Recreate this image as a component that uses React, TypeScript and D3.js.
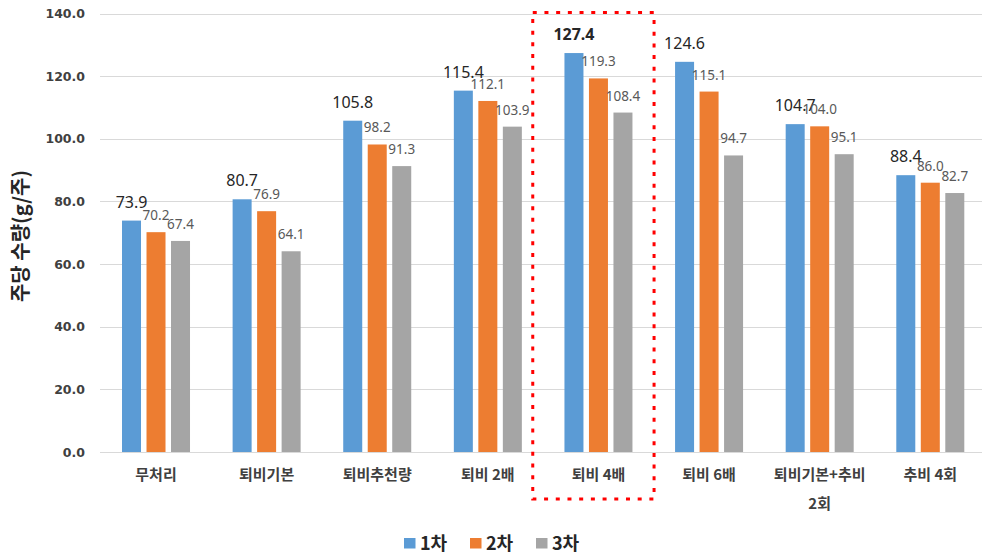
import React from "react";
import * as d3 from "d3";

// Weekly yield per plant under each fertilizer treatment, three harvests
const categories = [
  "무처리",
  "퇴비기본",
  "퇴비추천량",
  "퇴비 2배",
  "퇴비 4배",
  "퇴비 6배",
  "퇴비기본+추비\n2회",
  "추비 4회",
];
const seriesNames = ["1차", "2차", "3차"];
const harvest1 = [73.9, 80.7, 105.8, 115.4, 127.4, 124.6, 104.7, 88.4];
const harvest2 = [70.2, 76.9, 98.2, 112.1, 119.3, 115.1, 104.0, 86.0];
const harvest3 = [67.4, 64.1, 91.3, 103.9, 108.4, 94.7, 95.1, 82.7];
const yTicks = [0, 20, 40, 60, 80, 100, 120, 140];
const highlighted = "퇴비 4배";

const colors = ["#5b9bd5", "#ed7d31", "#a5a5a5"];
const series = [harvest1, harvest2, harvest3];

const W = 982;
const H = 558;

export default function App() {
  const x = d3.scaleBand<string>().domain(categories).range([100.7, 985.6]).padding(0);
  const y = d3.scaleLinear().domain([0, 140]).range([452, 13.6]);
  const barW = 19;
  const step = 24.5;

  const hlX0 = (x(highlighted) as number) - 10.4;
  const hlX1 = (x(highlighted) as number) + x.bandwidth() + 0.3;
  const hlY0 = y(140) - 1;
  const hlY1 = 499;

  const numFont = "'Noto Sans', 'Noto Sans CJK KR', sans-serif";
  const krFont = "'Noto Sans CJK KR', 'Noto Sans', sans-serif";

  return (
    <svg
      width={W}
      height={H}
      style={{ position: "absolute", left: 0, top: 0, background: "#fff" }}
    >
      {/* gridlines */}
      {yTicks.map((t) => (
        <line
          key={t}
          x1={100}
          x2={W}
          y1={Math.round(y(t)) + 0.5}
          y2={Math.round(y(t)) + 0.5}
          stroke="#d9d9d9"
          strokeWidth={1}
        />
      ))}
      {/* y tick labels */}
      {yTicks.map((t) => (
        <text
          key={"t" + t}
          x={85}
          y={y(t)}
          dy="0.36em"
          textAnchor="end"
          fontFamily="'DejaVu Sans', Verdana, sans-serif"
          fontWeight="bold"
          fontSize={12.5}
          fill="#404040"
        >
          {t.toFixed(1)}
        </text>
      ))}
      {/* y axis title */}
      <text
        transform={`translate(21,236) rotate(-90)`}
        textAnchor="middle"
        dy="0.35em"
        fontFamily={krFont}
        fontWeight="bold"
        fontSize={20}
        fill="#262626"
      >
        주당 수량(g/주)
      </text>

      {/* bars */}
      {series.map((vals, si) =>
        vals.map((v, ci) => {
          const cx = (x(categories[ci]) as number) + x.bandwidth() / 2 + (si - 1) * step;
          return (
            <rect
              key={`b${si}-${ci}`}
              x={cx - barW / 2}
              y={y(v)}
              width={barW}
              height={y(0) - y(v)}
              fill={colors[si]}
            />
          );
        })
      )}

      {/* value labels */}
      {series.map((vals, si) =>
        vals.map((v, ci) => {
          const cx = (x(categories[ci]) as number) + x.bandwidth() / 2 + (si - 1) * step;
          const first = si === 0;
          const bold = categories[ci] === highlighted && first;
          return (
            <text
              key={`l${si}-${ci}`}
              x={cx}
              y={y(v) - (first ? 13 : 12)}
              textAnchor="middle"
              fontFamily={numFont}
              fontSize={first ? 16 : 13.5}
              fontWeight={bold ? "bold" : "normal"}
              fill={first ? "#262626" : "#595959"}
            >
              {v.toFixed(1)}
            </text>
          );
        })
      )}

      {/* category labels */}
      {categories.map((c) => {
        const cx = (x(c) as number) + x.bandwidth() / 2;
        const lines = c.split("\n");
        return (
          <text
            key={"c" + c}
            x={cx}
            y={480}
            textAnchor="middle"
            fontFamily={krFont}
            fontWeight="bold"
            fontSize={15}
            fill="#404040"
          >
            {lines.map((ln, i) => (
              <tspan key={i} x={cx} dy={i === 0 ? 0 : 29}>
                {ln}
              </tspan>
            ))}
          </text>
        );
      })}

      {/* highlight box */}
      <rect
        x={hlX0}
        y={hlY0}
        width={hlX1 - hlX0}
        height={hlY1 - hlY0}
        fill="none"
        stroke="#ff0000"
        strokeWidth={3}
        strokeDasharray="4 7.7"
      />

      {/* legend */}
      {seriesNames.map((n, i) => {
        const lx = [404, 470, 536][i];
        return (
          <g key={"lg" + n}>
            <rect x={lx} y={538} width={11.5} height={10.5} fill={colors[i]} />
            <text
              x={lx + 16}
              y={549.5}
              fontFamily={krFont}
              fontWeight="bold"
              fontSize={18}
              fill="#262626"
            >
              {n}
            </text>
          </g>
        );
      })}
    </svg>
  );
}
